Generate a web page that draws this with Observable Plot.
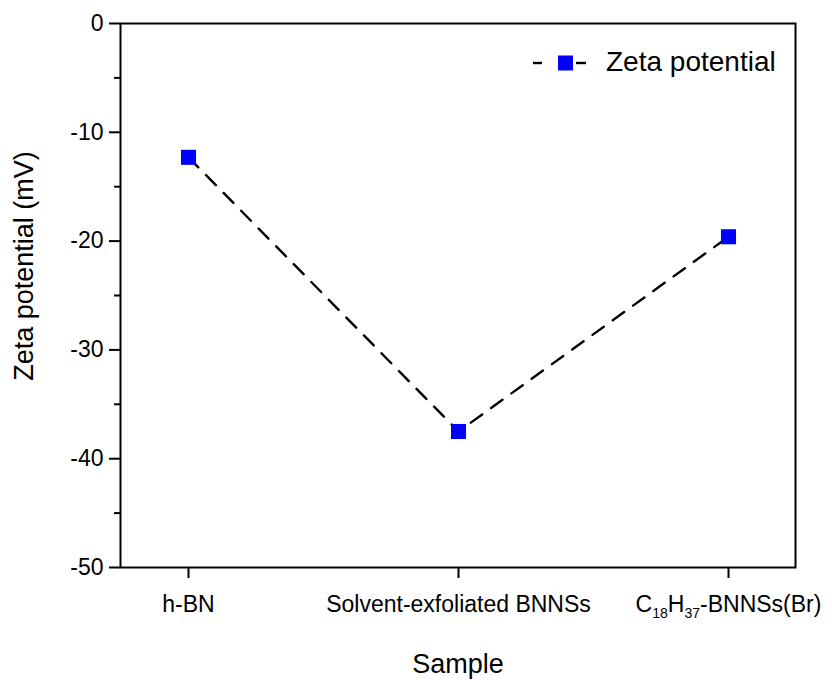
<!DOCTYPE html>
<html>
<head>
<meta charset="utf-8">
<script src="https://cdn.jsdelivr.net/npm/d3@7"></script>
<script src="https://cdn.jsdelivr.net/npm/@observablehq/plot@0.6"></script>
<style>
  html, body { margin: 0; padding: 0; background: #fff; }
  #chart { width: 832px; height: 680px; }
</style>
</head>
<body>
<div id="chart"></div>
<script>
const categories = ["h-BN", "Solvent-exfoliated BNNSs", "C18H37-BNNSs(Br)"];
const zetaValues = [-12.3, -37.5, -19.6];
const majorTicks = [0, -10, -20, -30, -40, -50];
const minorTicks = [-5, -15, -25, -35, -45];
const seriesName = "Zeta potential";
const xTitle = "Sample";
const yTitle = "Zeta potential (mV)";

const data = categories.map((c, i) => ({sample: c, zeta: zetaValues[i]}));
const FONT = "'Liberation Sans', Arial, Helvetica, sans-serif";

const chart = Plot.plot({
  width: 832,
  height: 680,
  marginLeft: 120,
  marginRight: 37,
  marginTop: 23,
  marginBottom: 113,
  style: {fontFamily: FONT, fontSize: "23px", background: "#fff", color: "#000", overflow: "visible"},
  x: {type: "point", domain: categories, padding: 0.25},
  y: {domain: [-50, 0]},
  marks: [
    Plot.axisY({ticks: majorTicks, tickSize: 11, tickPadding: 6, strokeWidth: 2, label: null, tickFormat: d => String(d)}),
    Plot.axisY({ticks: minorTicks, tickSize: 6, strokeWidth: 2, text: null, label: null}),
    Plot.axisX({tickSize: 11, tickPadding: 17, strokeWidth: 2, label: null}),
    Plot.line(data, {x: "sample", y: "zeta", stroke: "#000", strokeWidth: 2.4, strokeDasharray: "14,11"}),
    Plot.dot(data, {x: "sample", y: "zeta", symbol: "square", r: 8.5, fill: "#0000ff", stroke: "none"}),
    Plot.frame({stroke: "#000", strokeWidth: 2})
  ]
});

document.getElementById("chart").appendChild(chart);

const svg = d3.select(chart);

// Subscripts for the chemical formula tick label
svg.selectAll("text").filter(function() { return this.textContent === "C18H37-BNNSs(Br)"; })
  .each(function() {
    const t = d3.select(this);
    const target = t.select("tspan").empty() ? t : t.select("tspan");
    target.text(null);
    target.append("tspan").text("C");
    target.append("tspan").attr("font-size", 14).attr("dy", 6).text("18");
    target.append("tspan").attr("dy", -6).text("H");
    target.append("tspan").attr("font-size", 14).attr("dy", 6).text("37");
    target.append("tspan").attr("dy", -6).text("-BNNSs(Br)");
  });

// Axis titles
svg.append("text")
  .attr("transform", "translate(33,266) rotate(-90)")
  .attr("text-anchor", "middle")
  .style("font-size", "27px")
  .style("font-family", FONT)
  .attr("fill", "#000")
  .text(yTitle);

svg.append("text")
  .attr("x", 458)
  .attr("y", 673)
  .attr("text-anchor", "middle")
  .style("font-size", "27px")
  .style("font-family", FONT)
  .attr("fill", "#000")
  .text(xTitle);

// Legend
const lg = svg.append("g");
lg.append("line").attr("x1", 533).attr("x2", 542).attr("y1", 63).attr("y2", 63).attr("stroke", "#000").attr("stroke-width", 2.4);
lg.append("line").attr("x1", 576).attr("x2", 586).attr("y1", 63).attr("y2", 63).attr("stroke", "#000").attr("stroke-width", 2.4);
lg.append("rect").attr("x", 558).attr("y", 55.5).attr("width", 15).attr("height", 15).attr("fill", "#0000ff");
lg.append("text").attr("x", 606).attr("y", 71).attr("text-anchor", "start")
  .style("font-size", "28px").style("font-family", FONT).attr("fill", "#000").text(seriesName);
</script>
</body>
</html>
